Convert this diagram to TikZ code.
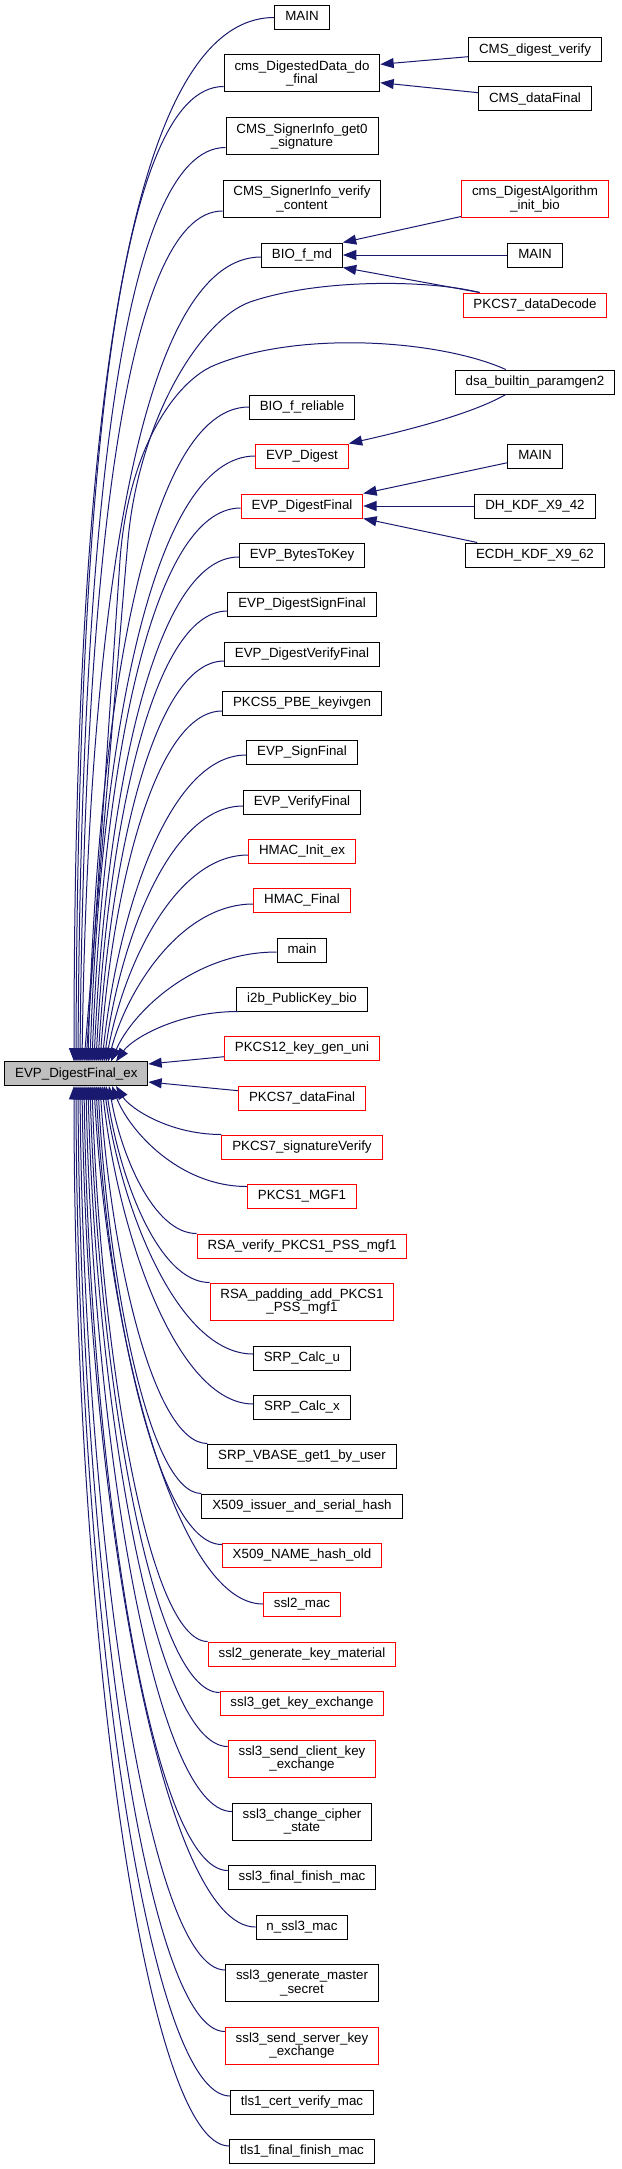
\documentclass[tikz,border=0pt]{standalone}
\usepackage{fontspec}
\setmainfont{Liberation Sans}
\usetikzlibrary{arrows.meta,calc}
\definecolor{edgeblue}{HTML}{191970}
\definecolor{boxred}{HTML}{FF0000}
\definecolor{maingray}{HTML}{BFBFBF}
\tikzset{
  fn/.style={draw=black, line width=0.75pt, fill=white,
    font=\fontsize{10pt}{10pt}\selectfont, inner xsep=7.8pt, inner ysep=0pt,
    minimum height=18pt, text height=7.3pt, text depth=2.2pt},
  fntwo/.style={draw=black, line width=0.75pt, fill=white,
    font=\fontsize{10pt}{10pt}\selectfont, inner xsep=7.8pt, inner ysep=0pt,
    minimum height=27.75pt, align=center},
  red/.style={draw=boxred},
  edge/.style={draw=edgeblue, line width=0.75pt,
    -{Triangle[length=10pt,width=7.5pt]}},
}
\def\fbk{0.15}\def\fck{0.25}
\newcommand\fedge[3]{%
  \path #1; \pgfgetlastxy{\fXs}{\fYs}%
  \path (#2,#3); \pgfgetlastxy{\fXt}{\fYt}%
  \pgfmathsetmacro\fDy{abs(\fYs-\fYt)}%
  \pgfmathsetmacro\fF{min(1,max(0,(\fDy-112.5)/675))}%
  \pgfmathsetmacro\fAx{\fXt+0.13*(1-\fF)*(\fXs-\fXt)}%
  \pgfmathsetmacro\fAy{\fYt+(0.45+\fbk*\fF)*(\fYs-\fYt)}%
  \pgfmathsetmacro\fBx{\fXs-(0.5+\fck*\fF)*(\fXs-\fXt)}%
  \draw[edge] #1 .. controls (\fBx pt,\fYs) and (\fAx pt,\fAy pt) .. (#2,#3);%
}
\begin{document}
\begin{tikzpicture}[x=0.75pt,y=-0.75pt]
\useasboundingbox (0,0) rectangle (621,2169);
% main node
\node[fn, fill=maingray] (m) at (76.3,1073.7) {EVP\_DigestFinal\_ex};
% middle column
\node[fn] (n1) at (302,17.5) {MAIN};
\node[fntwo] (n2) at (302,73.5) {cms\_DigestedData\_do\\\_final};
\node[fntwo] (n3) at (302,136.5) {CMS\_SignerInfo\_get0\\\_signature};
\node[fntwo] (n4) at (302,199) {CMS\_SignerInfo\_verify\\\_content};
\node[fn] (n5) at (302,255) {BIO\_f\_md};
\node[fn] (n8) at (302,407) {BIO\_f\_reliable};
\node[fn,red] (n9) at (302,456) {EVP\_Digest};
\node[fn,red] (n10) at (302,506) {EVP\_DigestFinal};
\node[fn] (n11) at (302,555) {EVP\_BytesToKey};
\node[fn] (n12) at (302,604) {EVP\_DigestSignFinal};
\node[fn] (n13) at (302,654) {EVP\_DigestVerifyFinal};
\node[fn] (n14) at (302,703) {PKCS5\_PBE\_keyivgen};
\node[fn] (n15) at (302,752) {EVP\_SignFinal};
\node[fn] (n16) at (302,802) {EVP\_VerifyFinal};
\node[fn,red] (n17) at (302,851) {HMAC\_Init\_ex};
\node[fn,red] (n18) at (302,900) {HMAC\_Final};
\node[fn] (n19) at (302,950) {main};
\node[fn] (n20) at (302,999) {i2b\_PublicKey\_bio};
\node[fn,red] (n21) at (302,1048) {PKCS12\_key\_gen\_uni};
\node[fn,red] (n22) at (302,1098) {PKCS7\_dataFinal};
\node[fn,red] (n23) at (302,1147) {PKCS7\_signatureVerify};
\node[fn,red] (n24) at (302,1196) {PKCS1\_MGF1};
\node[fn,red] (n25) at (302,1246) {RSA\_verify\_PKCS1\_PSS\_mgf1};
\node[fntwo,red] (n26) at (302,1301.5) {RSA\_padding\_add\_PKCS1\\\_PSS\_mgf1};
\node[fn] (n27) at (302,1358) {SRP\_Calc\_u};
\node[fn] (n28) at (302,1407) {SRP\_Calc\_x};
\node[fn] (n29) at (302,1456) {SRP\_VBASE\_get1\_by\_user};
\node[fn] (n30) at (302,1506) {X509\_issuer\_and\_serial\_hash};
\node[fn,red] (n31) at (302,1555) {X509\_NAME\_hash\_old};
\node[fn,red] (n32) at (302,1604) {ssl2\_mac};
\node[fn,red] (n33) at (302,1654) {ssl2\_generate\_key\_material};
\node[fn,red] (n34) at (302,1703) {ssl3\_get\_key\_exchange};
\node[fntwo,red] (n35) at (302,1758.5) {ssl3\_send\_client\_key\\\_exchange};
\node[fntwo] (n36) at (302,1821.5) {ssl3\_change\_cipher\\\_state};
\node[fn] (n37) at (302,1877.5) {ssl3\_final\_finish\_mac};
\node[fn] (n38) at (302,1927) {n\_ssl3\_mac};
\node[fntwo] (n39) at (302,1983) {ssl3\_generate\_master\\\_secret};
\node[fntwo,red] (n40) at (302,2045.5) {ssl3\_send\_server\_key\\\_exchange};
\node[fn] (n41) at (302,2102) {tls1\_cert\_verify\_mac};
\node[fn] (n42) at (302,2151) {tls1\_final\_finish\_mac};
% right column
\node[fn] (r1) at (535,50) {CMS\_digest\_verify};
\node[fn] (r2) at (535,99) {CMS\_dataFinal};
\node[fntwo,red] (r3) at (535,199) {cms\_DigestAlgorithm\\\_init\_bio};
\node[fn] (r4) at (535,255) {MAIN};
\node[fn,red] (r5) at (535,305) {PKCS7\_dataDecode};
\node[fn] (r6) at (535,382) {dsa\_builtin\_paramgen2};
\node[fn] (r7) at (535,456) {MAIN};
\node[fn] (r8) at (535,506) {DH\_KDF\_X9\_42};
\node[fn] (r9) at (535,555) {ECDH\_KDF\_X9\_62};
% right -> middle
\draw[edge] ($(r1.west)+(0,6.7)$) -- ($(n2.east)+(0,-9.2)$);
\draw[edge] ($(r2.west)+(0,-6.3)$) -- ($(n2.east)+(0,9.2)$);
\draw[edge] ($(r3.south west)+(0,-1.5)$) -- (n5.north east);
\draw[edge] (r4.west) -- (n5.east);
\draw[edge] ($(r5.north west)+(17,0)$) -- (n5.south east);
\draw[edge] ($(r6.south west)+(51,0)$) .. controls (470,415) and (400,432) .. (n9.north east);
\draw[edge] ($(r7.west)+(0,6.7)$) -- (n10.north east);
\draw[edge] (r8.west) -- (n10.east);
\draw[edge] ($(r9.north west)+(12,0)$) -- (n10.south east);
% right -> main (long arcs)
\draw[edge] ($(r5.north west)+(17,0)$) .. controls (430,280) and (320,278) .. (250,302)
   .. controls (200,320) and (139,420) .. (128,540) -- (84,1061.5);
\draw[edge] ($(r6.north west)+(51,0)$) .. controls (440,340) and (300,330) .. (215,365)
   .. controls (175,381) and (128,450) .. (120,560) -- (86,1061.5);
% middle -> main, upper
\fedge{(n1.west)}{74}{1061.5}
\fedge{($(n2.south west)+(0,-6)$)}{76}{1061.5}
\fedge{($(n3.south west)+(0,-8)$)}{78}{1061.5}
\fedge{($(n4.south west)+(0,-7)$)}{80}{1061.5}
\fedge{($(n5.west)+(0,2)$)}{82}{1061.5}
\fedge{(n8.west)}{88}{1061.5}
\fedge{(n9.west)}{90}{1061.5}
\fedge{($(n10.west)+(0,2)$)}{92}{1061.5}
\fedge{($(n11.west)+(0,2)$)}{94}{1061.5}
\fedge{($(n12.west)+(0,7)$)}{96}{1061.5}
\fedge{($(n13.west)+(0,7)$)}{98}{1061.5}
\fedge{($(n14.west)+(0,8)$)}{100}{1061.5}
\fedge{($(n15.west)+(0,3)$)}{102}{1061.5}
\fedge{($(n16.west)+(0,4)$)}{104}{1061.5}
\fedge{($(n17.west)+(0,4)$)}{106}{1061.5}
\fedge{($(n18.west)+(0,4)$)}{108}{1061.5}
\fedge{($(n19.west)+(0,2)$)}{111}{1061.5}
\fedge{($(n20.south west)+(2,0)$)}{116}{1061.5}
% straight ones
\draw[edge] ($(n21.west)+(0,8.7)$) -- ($(m.east)+(0,-9.7)$);
\draw[edge] ($(n22.west)+(0,-7.3)$) -- ($(m.east)+(0,8.3)$);
% middle -> main, lower
\def\fbk{0.05}\def\fck{0.05}
\fedge{(n23.north west)}{116}{1086}
\fedge{($(n24.north west)+(0,3)$)}{112}{1086}
\fedge{(n25.north west)}{109}{1086}
\fedge{(n26.north west)}{106}{1086}
\fedge{($(n27.west)+(0,-4)$)}{104}{1086}
\fedge{($(n28.west)+(0,-3)$)}{102}{1086}
\fedge{(n29.north west)}{100}{1086}
\fedge{(n30.north west)}{98}{1086}
\fedge{($(n31.north west)+(0,2)$)}{96}{1086}
\fedge{(n32.west)}{94}{1086}
\fedge{(n33.north west)}{92}{1086}
\fedge{($(n34.north west)+(0,2)$)}{90}{1086}
\fedge{($(n35.north west)+(0,7)$)}{88}{1086}
\fedge{($(n36.north west)+(0,9)$)}{86}{1086}
\fedge{($(n37.west)+(0,-7)$)}{84}{1086}
\fedge{(n38.west)}{82}{1086}
\fedge{($(n39.north west)+(0,6)$)}{80}{1086}
\fedge{($(n40.north west)+(0,5)$)}{78}{1086}
\fedge{($(n41.west)+(0,-6)$)}{76}{1086}
\fedge{($(n42.west)+(0,-5)$)}{74}{1086}
\end{tikzpicture}
\end{document}
